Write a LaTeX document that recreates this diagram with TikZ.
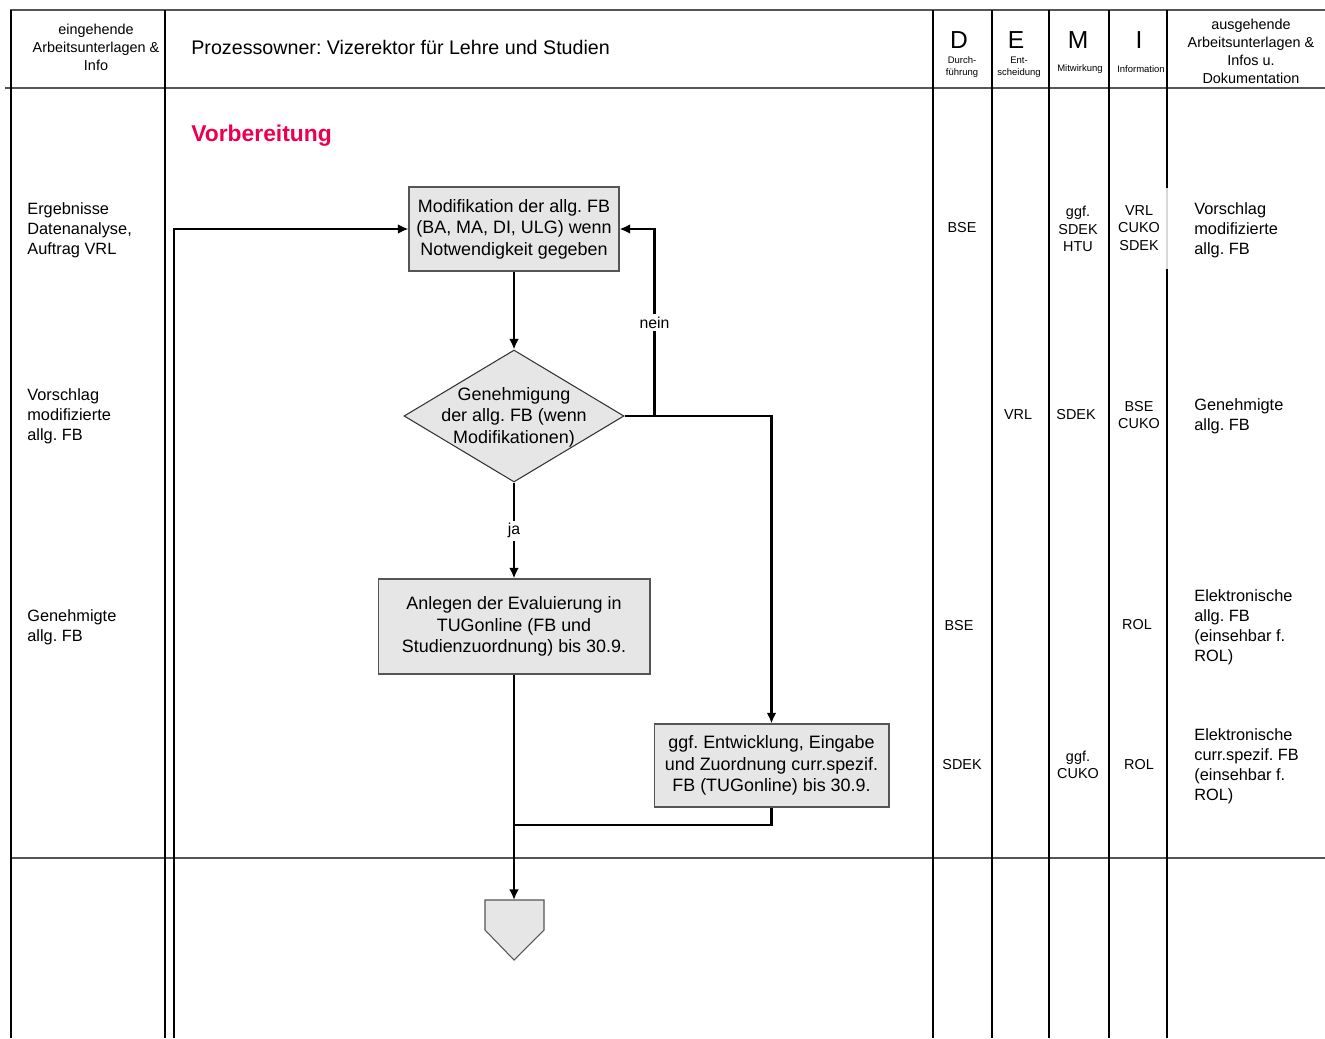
\documentclass[tikz,border=0pt]{standalone}
\usepackage{fontspec}
\setmainfont{Liberation Sans}
\frenchspacing
\usetikzlibrary{arrows.meta,shapes.geometric,positioning}
\definecolor{boxgray}{HTML}{E6E6E6}
\definecolor{framegray}{HTML}{555555}
\definecolor{vbred}{HTML}{EC004E}
\tikzset{
  >={Latex[length=6pt,width=5.5pt]},
  x=0.02cm, y=-0.02cm,
}
\tikzstyle{grid}=[line width=0.6pt]
\tikzstyle{rule}=[line width=0.8pt,framegray]
\tikzstyle{flow}=[line width=1.3pt,->]
\tikzstyle{link}=[line width=1.3pt]
\tikzstyle{task}=[draw=framegray,line width=0.6pt,fill=boxgray,align=center,inner sep=0pt,font=\fontsize{10.2}{12.2}\selectfont]
\tikzstyle{decision}=[diamond,draw=black!80,line width=0.6pt,fill=boxgray,inner sep=0pt,minimum width=4.4cm,minimum height=2.64cm]
\tikzstyle{head}=[align=center,font=\fontsize{8.2}{10.2}\selectfont]
\tikzstyle{letter}=[font=\fontsize{14}{16}\selectfont]
\tikzstyle{role}=[align=center,font=\fontsize{5.4}{6.8}\selectfont]
\tikzstyle{doc}=[align=left,anchor=west,inner sep=0pt,font=\fontsize{9.3}{11.3}\selectfont]
\tikzstyle{cell}=[align=center,font=\fontsize{8.2}{9.8}\selectfont]
\tikzstyle{tag}=[fill=white,inner sep=1.5pt,font=\fontsize{9}{11}\selectfont]

\begin{document}
\begin{tikzpicture}
  \useasboundingbox (0,0) rectangle (1325,1038);
  \draw[rule] (10,10) -- (1325,10);
  \draw[rule] (5,88) -- (1325,88);
  \draw[rule] (11,858) -- (1325,858);
  \foreach \x in {11,165,933,992,1049,1109}
    \draw[grid] (\x,10) -- (\x,1038);
  \draw[grid] (1167,10) -- (1167,188);
  \draw[grid,black!15] (1167,188) -- (1167,269);
  \draw[grid] (1167,269) -- (1167,1038);

  \node[head] (inhead) at (96,47) {eingehende\\Arbeitsunterlagen \&\\Info};
  \node[anchor=west,inner sep=0pt,font=\fontsize{11.2}{13}\selectfont] (owner) at (191,47) {Prozessowner: Vizerektor für Lehre und Studien};
  \node[letter] (dl) at (959,40) {D};
  \node[letter] (el) at (1016,40) {E};
  \node[letter] (ml) at (1078,40) {M};
  \node[letter] (il) at (1139,40) {I};
  \node[role] (dr) at (962,67) {Durch-\\führung};
  \node[role] (er) at (1019,67) {Ent-\\scheidung};
  \node[role] (mr) at (1080,69) {Mitwirkung};
  \node[role] (ir) at (1141,69) {Information};
  \node[head] (outhead) at (1251,51) {ausgehende\\Arbeitsunterlagen \&\\Infos u.\\Dokumentation};

  \node[anchor=west,inner sep=0pt,text=vbred,font=\fontsize{13}{15}\selectfont\bfseries] (phase) at (191,136) {Vorbereitung};

  \node[task,minimum width=4.2cm,minimum height=1.68cm] (modif) at (514,229) {Modifikation der allg. FB\\(BA, MA, DI, ULG) wenn\\Notwendigkeit gegeben};
  \node[decision] (approve) at (514,416) {};
  \node[align=center,font=\fontsize{10.2}{12.2}\selectfont] (approvetext) at (514,417) {Genehmigung\\der allg. FB (wenn\\Modifikationen)};
  \node[task,minimum width=5.44cm,minimum height=1.9cm] (setup) at (514,626.5) {Anlegen der Evaluierung in\\TUGonline (FB und\\Studienzuordnung) bis 30.9.};
  \node[task,minimum width=4.7cm,minimum height=1.66cm] (currfb) at (771.5,765.5) {ggf. Entwicklung, Eingabe\\und Zuordnung curr.spezif.\\FB (TUGonline) bis 30.9.};
  \coordinate (offpage) at (514,900);
  \coordinate (join) at (514,825);
  \coordinate (loopin) at (174,1038);
  \draw[framegray,line width=0.6pt,fill=boxgray] (485,900) -- (544,900) -- (544,930) -- (514,960) -- (485,930) -- cycle;

  \draw[flow] (modif) -- (approve);
  \draw[flow] (approve.east) -- ++(30,0) |- (modif.east) node[tag,pos=0.25]{nein};
  \draw[flow] (approve.east) -| (currfb.north);
  \draw[flow] (approve) -- node[tag]{ja} (setup);
  \draw[flow] (setup) -- (offpage);
  \draw[link] (currfb.south) |- (join);
  \draw[flow] (loopin) |- (modif.west);

  \node[doc] (in1) at (27,230) {Ergebnisse\\Datenanalyse,\\Auftrag VRL};
  \node[doc] (in2) at (27,416) {Vorschlag\\modifizierte\\allg. FB};
  \node[doc] (in3) at (27,627) {Genehmigte\\allg. FB};
  \node[doc] (out1) at (1194,230) {Vorschlag\\modifizierte\\allg. FB};
  \node[doc] (out2) at (1194,416) {Genehmigte\\allg. FB};
  \node[doc] (out3) at (1194,627) {Elektronische\\allg. FB\\(einsehbar f.\\ROL)};
  \node[doc] (out4) at (1194,766) {Elektronische\\curr.spezif. FB\\(einsehbar f.\\ROL)};

  \node[cell] (d1) at (962,228) {BSE};
  \node[cell] (d3) at (959,626) {BSE};
  \node[cell] (d4) at (962,765) {SDEK};
  \node[cell] (e2) at (1018,415) {VRL};
  \node[cell] (m1) at (1078,229) {ggf.\\SDEK\\HTU};
  \node[cell] (m2) at (1076,415) {SDEK};
  \node[cell] (m4) at (1078,765) {ggf.\\CUKO};
  \node[cell] (i1) at (1139,228) {VRL\\CUKO\\SDEK};
  \node[cell] (i2) at (1139,415) {BSE\\CUKO};
  \node[cell] (i3) at (1137,625) {ROL};
  \node[cell] (i4) at (1139,765) {ROL};
\end{tikzpicture}
\end{document}
